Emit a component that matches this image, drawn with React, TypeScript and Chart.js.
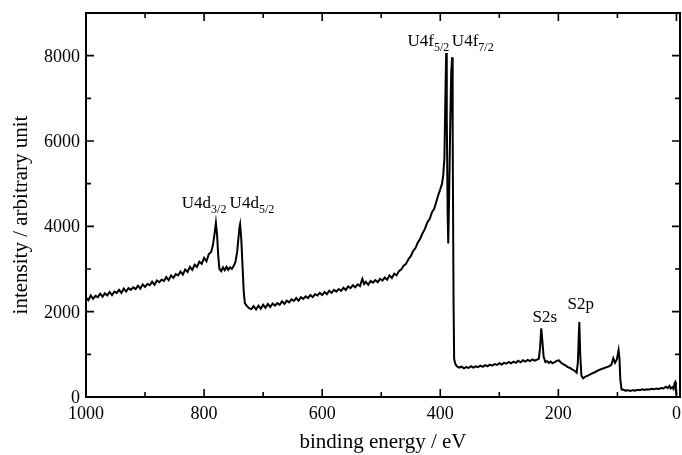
import React, { useEffect, useRef } from "react";
import { Chart, registerables } from "chart.js";

Chart.register(...registerables);

// binding energy (eV)
const energy = [
  1000, 996, 992, 988, 984, 980, 976, 972, 968, 964,
  960, 956, 952, 948, 944, 940, 936, 932, 928, 924,
  920, 916, 912, 908, 904, 900, 896, 892, 888, 884,
  880, 876, 872, 868, 864, 860, 856, 852, 848, 844,
  840, 836, 832, 828, 824, 820, 816, 812, 808, 804,
  800, 796, 792, 788, 785, 782, 780, 778, 776, 774,
  771, 768, 765, 762, 759, 756, 753, 750, 747, 744,
  742, 740, 739, 737, 735, 733, 731, 728, 724, 720,
  716, 712, 708, 704, 700, 696, 692, 688, 684, 680,
  676, 672, 668, 664, 660, 656, 652, 648, 644, 640,
  636, 632, 628, 624, 620, 616, 612, 608, 604, 600,
  596, 592, 588, 584, 580, 576, 572, 568, 564, 560,
  556, 552, 548, 544, 540, 536, 532, 529, 526, 522,
  518, 514, 510, 506, 502, 498, 494, 490, 486, 482,
  478, 474, 470, 466, 462, 458, 454, 450, 446, 442,
  438, 434, 430, 426, 422, 418, 414, 410, 406, 403,
  400, 397, 395, 393, 391.5, 390, 389, 387.5, 386.5, 385,
  383, 381.5, 380, 379, 377.5, 376.5, 375, 372, 368, 364,
  360, 356, 352, 348, 344, 340, 336, 332, 328, 324,
  320, 316, 312, 308, 304, 300, 296, 292, 288, 284,
  280, 276, 272, 268, 264, 260, 256, 252, 248, 244,
  240, 236, 233, 231, 229, 227, 225, 222, 219, 216,
  213, 210, 206, 202, 199, 196, 192, 188, 184, 180,
  176, 172, 169, 167, 165.5, 164.5, 163, 161, 158, 154,
  150, 146, 142, 138, 134, 130, 126, 122, 118, 114,
  110, 107, 104, 101, 98, 96.5, 95, 93, 90, 86,
  82, 78, 74, 70, 66, 62, 58, 54, 50, 46,
  42, 38, 34, 30, 26, 22, 18, 15, 12, 10,
  7, 5, 3, 2, 1, 0,
];

// intensity (arbitrary unit)
const intensity = [
  2330, 2270, 2380, 2300, 2370, 2340, 2420, 2350, 2430, 2380,
  2460, 2390, 2470, 2440, 2510, 2440, 2540, 2470, 2550, 2510,
  2570, 2530, 2610, 2540, 2640, 2580, 2650, 2620, 2700, 2630,
  2730, 2690, 2750, 2720, 2810, 2740, 2850, 2790, 2880, 2850,
  2940, 2870, 2990, 2930, 3050, 2980, 3100, 3050, 3170, 3120,
  3260, 3180, 3350, 3400, 3560, 3850, 4080, 3800, 3300, 3000,
  2950, 3040, 2970, 3050, 2980, 3040, 3000, 3070, 3160, 3400,
  3700, 3980, 4050, 3700, 3100, 2500, 2200, 2140, 2080, 2060,
  2130, 2050, 2140, 2070, 2160, 2090, 2180, 2110, 2190, 2140,
  2200, 2160, 2240, 2180, 2260, 2220, 2290, 2250, 2320, 2260,
  2340, 2300, 2360, 2320, 2390, 2340, 2410, 2380, 2440, 2390,
  2460, 2410, 2490, 2440, 2510, 2470, 2530, 2490, 2560, 2510,
  2590, 2550, 2620, 2570, 2640, 2600, 2770, 2650, 2700, 2630,
  2720, 2680, 2740, 2690, 2770, 2730, 2800, 2750, 2850, 2790,
  2890, 2850, 2950, 2990, 3080, 3120, 3230, 3300, 3420, 3490,
  3620, 3710, 3840, 3940, 4090, 4170, 4330, 4420, 4610, 4750,
  4870, 5000, 5200, 5600, 6900, 8060, 6600, 4300, 3600, 4700,
  6500, 7600, 7960, 6200, 2200, 900, 790, 720, 690, 710,
  670, 700, 680, 720, 690, 720, 700, 735, 705, 745,
  720, 760, 735, 770, 750, 790, 760, 800, 780, 820,
  790, 830, 800, 850, 815, 860, 830, 870, 840, 880,
  850, 875, 900, 1150, 1610, 1300, 950, 820, 840, 800,
  830, 790, 820, 850, 860, 810, 770, 740, 700, 680,
  640, 610, 570, 800, 1400, 1760, 1000, 500, 440, 480,
  500, 530, 560, 580, 610, 640, 660, 680, 700, 720,
  760, 910, 800, 880, 1100, 900, 400, 180, 170, 150,
  160, 140, 160, 150, 170, 160, 180, 165, 180, 175,
  190, 180, 200, 190, 210, 200, 240, 210, 260, 200,
  230, 190, 330, 350, 200, 40,
];

const xTickValues = [1000, 800, 600, 400, 200, 0];
const xMinorValues = [900, 700, 500, 300, 100];
const yTickValues = [0, 2000, 4000, 6000, 8000];
const yMinorValues = [1000, 3000, 5000, 7000];

const peakNames = ["U4d", "U4d", "U4f", "U4f", "S2s", "S2p"];
const peakSubs = ["3/2", "5/2", "5/2", "7/2", "", ""];
const peakLabelEnergy = [800, 719, 420, 345, 223, 162];
const peakLabelIntensity = [4440, 4440, 8225, 8225, 1765, 2055];

const FONT = '"Liberation Serif", "Times New Roman", Times, serif';

const framePlugin = {
  id: "frameAndText",
  afterDatasetsDraw(chart: any) {
    const { ctx, chartArea: a, scales } = chart;
    const xs = scales.x;
    const ys = scales.y;
    ctx.save();
    ctx.strokeStyle = "#000";
    ctx.fillStyle = "#000";
    ctx.lineWidth = 2;
    ctx.strokeRect(a.left, a.top, a.right - a.left, a.bottom - a.top);

    ctx.lineWidth = 1.6;
    ctx.beginPath();
    const xTick = (v: number, len: number) => {
      const p = xs.getPixelForValue(v);
      ctx.moveTo(p, a.bottom);
      ctx.lineTo(p, a.bottom - len);
      ctx.moveTo(p, a.top);
      ctx.lineTo(p, a.top + len);
    };
    const yTick = (v: number, len: number) => {
      const p = ys.getPixelForValue(v);
      ctx.moveTo(a.left, p);
      ctx.lineTo(a.left + len, p);
      ctx.moveTo(a.right, p);
      ctx.lineTo(a.right - len, p);
    };
    xTickValues.forEach((v) => xTick(v, 8));
    xMinorValues.forEach((v) => xTick(v, 5));
    yTickValues.forEach((v) => yTick(v, 8));
    yMinorValues.forEach((v) => yTick(v, 5));
    ctx.stroke();

    ctx.font = `18px ${FONT}`;
    ctx.textBaseline = "alphabetic";
    ctx.textAlign = "center";
    xTickValues.forEach((v) => ctx.fillText(String(v), xs.getPixelForValue(v), a.bottom + 22));
    ctx.textAlign = "right";
    yTickValues.forEach((v) => ctx.fillText(String(v), a.left - 6, ys.getPixelForValue(v) + 6));

    ctx.font = `21px ${FONT}`;
    ctx.textAlign = "center";
    ctx.fillText("binding energy / eV", (a.left + a.right) / 2, 448);
    ctx.save();
    ctx.translate(27, 215);
    ctx.rotate(-Math.PI / 2);
    ctx.fillText("intensity / arbitrary unit", 0, 0);
    ctx.restore();

    ctx.textAlign = "left";
    peakNames.forEach((name, i) => {
      const sub = peakSubs[i];
      ctx.font = `17px ${FONT}`;
      const w1 = ctx.measureText(name).width;
      ctx.font = `12px ${FONT}`;
      const w2 = sub ? ctx.measureText(sub).width : 0;
      const cx = xs.getPixelForValue(peakLabelEnergy[i]);
      const by = ys.getPixelForValue(peakLabelIntensity[i]);
      const x0 = cx - (w1 + w2) / 2;
      ctx.font = `17px ${FONT}`;
      ctx.fillText(name, x0, by);
      if (sub) {
        ctx.font = `12px ${FONT}`;
        ctx.fillText(sub, x0 + w1, by + 5);
      }
    });
    ctx.restore();
  },
};

export default function App() {
  const ref = useRef<HTMLCanvasElement | null>(null);
  useEffect(() => {
    if (!ref.current) return;
    const chart = new Chart(ref.current, {
      type: "line",
      data: {
        datasets: [
          {
            data: energy.map((e, i) => ({ x: e, y: intensity[i] })),
            borderColor: "#000",
            borderWidth: 2,
            pointRadius: 0,
            tension: 0,
            fill: false,
          },
        ],
      },
      options: {
        responsive: false,
        animation: false,
        events: [],
        layout: { padding: { left: 0, right: 2, top: 13, bottom: 0 } },
        plugins: { legend: { display: false }, tooltip: { enabled: false } },
        scales: {
          x: {
            type: "linear",
            reverse: true,
            min: -6,
            max: 1000,
            grid: { display: false },
            border: { display: false },
            ticks: { display: false },
            afterFit(s: any) {
              s.height = 58;
            },
          },
          y: {
            type: "linear",
            min: 0,
            max: 9000,
            grid: { display: false },
            border: { display: false },
            ticks: { display: false },
            afterFit(s: any) {
              s.width = 86;
            },
          },
        },
      } as any,
      plugins: [framePlugin],
    });
    return () => chart.destroy();
  }, []);
  return (
    <canvas
      ref={ref}
      width={682}
      height={455}
      style={{ position: "fixed", left: 0, top: 0, display: "block", background: "#fff" }}
    />
  );
}
